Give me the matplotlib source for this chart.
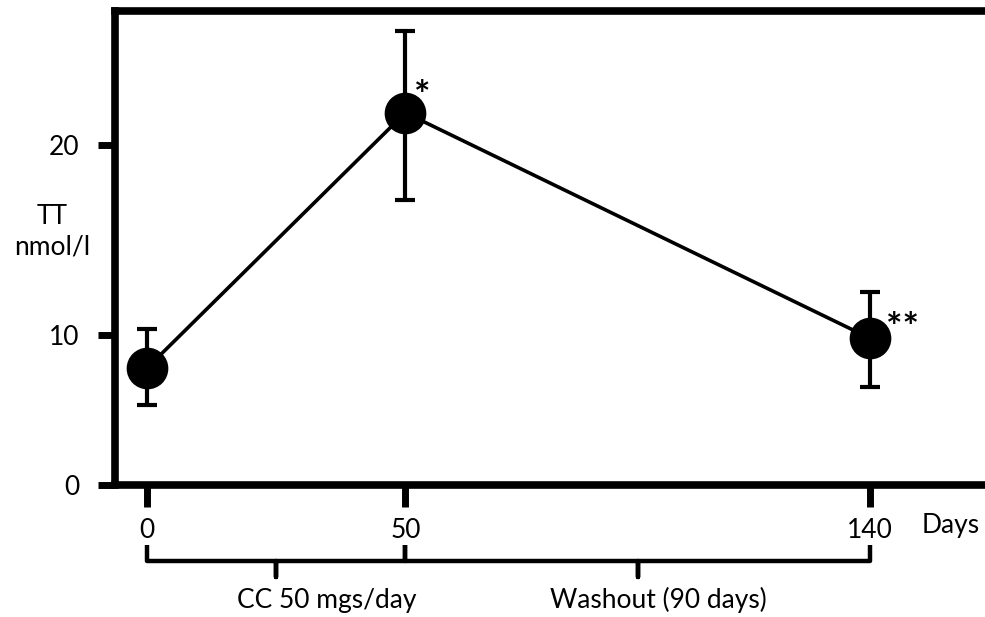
import numpy as np
import matplotlib.pyplot as plt

plt.rcParams['font.family'] = ['Lato', 'DejaVu Sans']

# total testosterone (nmol/l) against study day
days = [0, 50, 140]
tt_mean = [7.8, 21.7, 9.78]
tt_low = [5.33, 17.1, 6.55]
tt_high = [10.3, 26.0, 12.28]
marks = ['', '*', '**']

y_ticks = [0, 10, 20]
x_ticks = [0, 50, 140]

# study phases: bracket from start to end day
phase_start = [0, 50]
phase_end = [50, 140]
phase_labels = ['CC 50 mgs/day', 'Washout (90 days)']


# the original y axis is drawn unevenly: 0-10 is shorter than 10-20
def y_fwd(y):
    y = np.asarray(y, dtype=float)
    return np.where(y <= 10, 15 * y, 150 + 19 * (y - 10))


def y_inv(u):
    u = np.asarray(u, dtype=float)
    return np.where(u <= 150, u / 15, 10 + (u - 150) / 19)


fig = plt.figure(figsize=(9.85, 6.17), dpi=100)
ax = fig.add_axes([0.1168, 0.2139, 1.0, 0.769])
ax.set_yscale('function', functions=(y_fwd, y_inv))

mean = np.array(tt_mean)
yerr = [mean - np.array(tt_low), np.array(tt_high) - mean]
ax.errorbar(days, tt_mean, yerr=yerr, fmt='-o', color='black', ms=29,
            lw=2.6, elinewidth=3, capsize=7.5, capthick=3, clip_on=False)

for d, m, s in zip(days, tt_mean, marks):
    if s:
        dx = 12 if len(s) == 1 else 23
        dy = 3.5 if len(s) == 1 else -1.5
        ax.annotate(s, (d, m), xytext=(dx, dy), textcoords='offset points',
                    ha='center', va='baseline', fontsize=28, fontweight='bold')

ax.set_xlim(-6.2, 184.5)
ax.set_ylim(0, 27.08)

for side in ['top', 'left', 'bottom']:
    ax.spines[side].set_linewidth(5.5)
ax.spines['right'].set_visible(False)

ax.set_yticks(y_ticks)
ax.set_xticks(x_ticks)
ax.tick_params(axis='y', direction='out', length=12.5, width=5, pad=13,
               labelsize=19)
ax.tick_params(axis='x', direction='out', length=15.5, width=5, pad=8,
               labelsize=19)

ax.annotate('Days', (150, 0), xycoords=('data', 'axes fraction'),
            xytext=(0, -40), textcoords='offset pixels',
            ha='left', va='center', fontsize=19)

fig.text(52 / 985, 1 - 232 / 617, 'TT\nnmol/l', ha='center', va='center',
         fontsize=19, linespacing=1.3)

# curly brackets under the axis for the two phases
trans = ax.get_xaxis_transform()
top_y, base_y, nub_y = -0.1265, -0.160, -0.194
label_x = [17.4, 78]
for x0, x1, lab, lx in zip(phase_start, phase_end, phase_labels, label_x):
    xm = (x0 + x1) / 2
    ax.plot([x0, x0, xm, xm, xm, x1, x1],
            [top_y, base_y, base_y, nub_y, base_y, base_y, top_y],
            color='black', lw=3.2, transform=trans, clip_on=False,
            solid_joinstyle='round', solid_capstyle='butt')
    ax.text(lx, -0.2424, lab, transform=trans, ha='left', va='center',
            fontsize=19)

fig.savefig('out.png', dpi=100)
